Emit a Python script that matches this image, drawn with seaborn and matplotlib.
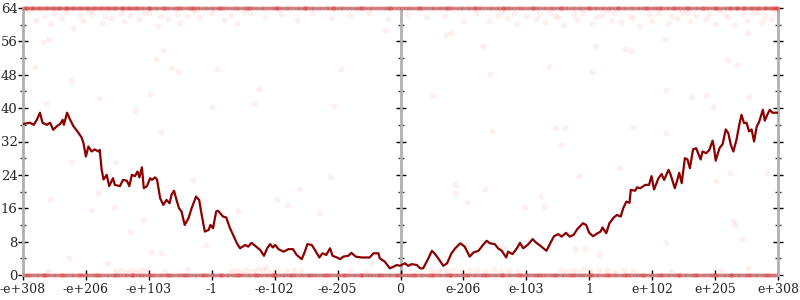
import matplotlib
matplotlib.use("Agg")
import matplotlib.pyplot as plt
import seaborn as sns
import pandas as pd
from matplotlib.ticker import MultipleLocator, FixedLocator

# ---------------- data ----------------
tick_labels = ["-e+308", "-e+206", "-e+103", "-1", "-e-102", "-e-205", "0",
               "e-206", "e-103", "1", "e+102", "e+205", "e+308"]

line_x = [0.00, 0.11, 0.17, 0.22, 0.27, 0.31, 0.38, 0.43, 0.48, 0.54, 0.59, 0.63, 0.65, 0.70, 0.75,
          0.80, 0.88, 0.93, 0.96, 1.00, 1.04, 1.09, 1.14, 1.20, 1.22, 1.25, 1.28, 1.33, 1.37, 1.43,
          1.46, 1.54, 1.59, 1.65, 1.69, 1.73, 1.78, 1.82, 1.85, 1.89, 1.92, 1.97, 2.02, 2.05, 2.10,
          2.13, 2.18, 2.23, 2.28, 2.33, 2.36, 2.40, 2.44, 2.48, 2.52, 2.57, 2.63, 2.68, 2.75, 2.80,
          2.84, 2.89, 2.95, 2.98, 3.02, 3.07, 3.10, 3.18, 3.23, 3.29, 3.34, 3.40, 3.45, 3.53, 3.58,
          3.63, 3.69, 3.77, 3.83, 3.88, 3.93, 3.97, 4.01, 4.06, 4.14, 4.22, 4.29, 4.35, 4.43, 4.48,
          4.52, 4.59, 4.64, 4.71, 4.76, 4.82, 4.88, 4.92, 4.99, 5.04, 5.09, 5.17, 5.22, 5.29, 5.38,
          5.51, 5.57, 5.65, 5.67, 5.75, 5.83, 5.89, 5.94, 5.99, 6.07, 6.12, 6.18, 6.26, 6.31, 6.36,
          6.43, 6.50, 6.55, 6.60, 6.68, 6.74, 6.81, 6.87, 6.95, 7.02, 7.10, 7.16, 7.24, 7.31, 7.37,
          7.42, 7.50, 7.55, 7.61, 7.68, 7.71, 7.78, 7.85, 7.90, 7.95, 8.02, 8.10, 8.16, 8.24, 8.32,
          8.38, 8.44, 8.51, 8.56, 8.63, 8.69, 8.75, 8.81, 8.90, 8.95, 9.00, 9.06, 9.13, 9.18, 9.21,
          9.27, 9.32, 9.39, 9.44, 9.50, 9.54, 9.59, 9.64, 9.66, 9.73, 9.76, 9.81, 9.89, 9.95, 9.99,
          10.03, 10.10, 10.15, 10.19, 10.26, 10.29, 10.36, 10.40, 10.43, 10.47, 10.52, 10.56, 10.60,
          10.65, 10.70, 10.73, 10.77, 10.80, 10.86, 10.91, 10.96, 10.98, 11.01, 11.07, 11.12, 11.17,
          11.21, 11.25, 11.29, 11.34, 11.38, 11.42, 11.46, 11.50, 11.54, 11.58, 11.62, 11.66, 11.70,
          11.76, 11.79, 11.83, 11.87, 11.91, 12.00]
line_y = [36.2, 36.5, 36.0, 37.2, 38.9, 36.5, 36.0, 36.5, 34.8, 35.7, 36.2, 37.2, 36.0, 38.9, 37.2,
          35.7, 34.1, 33.0, 31.7, 28.4, 30.8, 29.6, 30.1, 29.6, 30.0, 25.2, 22.9, 24.0, 21.3, 23.2,
          21.6, 21.3, 22.8, 22.6, 21.3, 24.0, 23.7, 24.8, 23.4, 25.8, 20.8, 21.3, 23.2, 22.8, 23.4,
          22.9, 18.4, 16.8, 18.0, 17.2, 19.2, 20.2, 18.0, 16.0, 15.2, 12.0, 13.6, 16.0, 18.8, 18.0,
          14.4, 10.4, 10.8, 12.0, 11.2, 15.2, 15.4, 14.0, 13.8, 11.2, 9.6, 7.6, 6.4, 7.2, 6.8,
          7.7, 7.0, 6.0, 4.6, 6.4, 7.4, 6.6, 7.2, 6.2, 5.6, 6.2, 6.2, 4.8, 3.8, 5.6,
          7.4, 7.2, 6.0, 4.2, 5.2, 4.8, 6.4, 4.6, 4.2, 3.8, 4.4, 4.6, 5.3, 4.4, 4.2,
          4.2, 5.2, 5.2, 4.0, 3.2, 1.6, 2.0, 2.4, 2.2, 2.8, 2.2, 2.6, 2.4, 1.6, 1.6,
          3.6, 5.8, 5.0, 4.0, 2.2, 2.8, 5.2, 6.4, 7.6, 6.8, 4.4, 5.4, 5.8, 7.2, 8.2,
          7.6, 7.4, 6.4, 5.8, 4.2, 5.6, 5.0, 6.4, 7.7, 6.4, 7.2, 8.6, 7.7, 6.8, 5.8,
          7.6, 9.3, 9.8, 9.2, 10.1, 9.2, 9.6, 11.0, 12.4, 12.0, 10.1, 9.3, 10.0, 10.4, 11.4,
          10.0, 12.4, 13.8, 14.4, 14.0, 16.0, 17.6, 17.3, 20.4, 20.2, 21.0, 20.8, 21.6, 21.6, 23.7,
          20.5, 23.2, 24.2, 22.8, 25.2, 24.2, 20.8, 22.8, 24.5, 22.0, 28.0, 27.7, 25.6,
          30.1, 30.4, 29.2, 27.7, 29.6, 29.2, 30.0, 32.2, 30.8, 27.4, 30.4, 31.4, 34.9,
          34.0, 31.2, 29.6, 32.4, 35.7, 38.4, 36.4, 36.5, 34.4, 34.9, 32.0, 35.5, 36.7,
          39.6, 37.0, 38.4, 39.6, 38.9, 38.9]

# points sitting on the top edge (error = 64 bits)
top_x = [0.02, 0.07, 0.12, 0.18, 0.23, 0.29, 0.34, 0.40, 0.44, 0.51, 0.55, 0.61, 0.66, 0.72, 0.77,
         0.83, 0.88, 0.94, 0.99, 1.05, 1.10, 1.16, 1.21, 1.27, 1.32, 1.38, 1.43, 1.49, 1.55, 1.60,
         1.66, 1.71, 1.77, 1.82, 1.88, 1.93, 1.99, 2.04, 2.10, 2.15, 2.21, 2.27, 2.32, 2.38, 2.43,
         2.49, 2.54, 2.60, 2.65, 2.71, 2.77, 2.82, 2.88, 2.93, 2.99, 3.04, 3.10, 3.16, 3.21, 3.27,
         3.33, 3.38, 3.44, 3.49, 3.55, 3.61, 3.66, 3.72, 3.78, 3.83, 3.89, 3.95, 4.01, 4.06, 4.12,
         4.18, 4.23, 4.29, 4.35, 4.41, 4.46, 4.52, 4.58, 4.63, 4.69, 4.75, 4.81, 4.86, 4.92, 4.98,
         5.04, 5.09, 5.15, 5.21, 5.27, 5.32, 5.38, 5.44, 5.50, 5.55, 5.61, 5.67, 5.73, 5.78, 5.84,
         5.90, 5.96, 6.02, 6.08, 6.13, 6.19, 6.25, 6.31, 6.36, 6.42, 6.48, 6.54, 6.59, 6.65, 6.71,
         6.77, 6.82, 6.88, 6.94, 7.00, 7.05, 7.11, 7.17, 7.23, 7.28, 7.34, 7.40, 7.46, 7.51, 7.57,
         7.63, 7.69, 7.74, 7.80, 7.86, 7.92, 7.97, 8.03, 8.09, 8.15, 8.20, 8.26, 8.32, 8.38, 8.43,
         8.49, 8.55, 8.61, 8.66, 8.72, 8.78, 8.84, 8.89, 8.95, 9.01, 9.07, 9.12, 9.18, 9.24, 9.30,
         9.35, 9.41, 9.47, 9.53, 9.58, 9.64, 9.70, 9.76, 9.81, 9.87, 9.93, 9.99, 10.04, 10.10, 10.16,
         10.22, 10.27, 10.33, 10.39, 10.45, 10.50, 10.56, 10.62, 10.68, 10.73, 10.79, 10.85, 10.91,
         10.96, 11.02, 11.08, 11.14, 11.19, 11.25, 11.31, 11.37, 11.42, 11.48, 11.54, 11.60, 11.65,
         11.71, 11.77, 11.83, 11.88, 11.94, 11.99,
         0.05, 0.15, 0.26, 0.37, 0.48, 0.58, 0.69, 0.80, 0.91, 1.02, 1.13, 1.24, 1.35, 1.46, 1.57,
         1.68, 1.79, 2.01, 2.24, 2.46, 2.68, 3.13, 3.58, 4.03, 4.48, 4.93, 5.39, 5.84, 6.29, 6.74,
         7.19, 7.65, 8.10, 8.55, 9.00, 9.45, 9.90, 10.12, 10.35, 10.57, 10.80, 11.02, 11.24, 11.35,
         11.46, 11.57, 11.68, 11.79, 11.90, 11.97]

near_top_x = [0.20, 0.35, 0.45, 0.50, 0.62, 0.80, 0.90, 0.95, 1.10, 1.25, 1.30, 1.40, 1.55, 1.60,
              1.70, 1.85, 2.00, 2.15, 2.20, 2.30, 2.45, 2.50, 2.60, 2.80, 3.00, 3.20, 3.30, 3.40,
              3.60, 3.85, 4.10, 4.35, 4.60, 4.90, 5.20, 5.50, 5.80, 6.10, 6.40, 6.70, 7.00, 7.20,
              7.40, 7.55, 7.70, 7.80, 7.85, 8.00, 8.15, 8.20, 8.30, 8.45, 8.50, 8.60, 8.75, 8.80,
              8.90, 9.05, 9.10, 9.20, 9.35, 9.40, 9.50, 9.65, 9.70, 9.80, 9.95, 10.00, 10.10, 10.25,
              10.30, 10.40, 10.55, 10.60, 10.70, 10.85, 10.90, 11.00, 11.15, 11.20, 11.30, 11.45,
              11.50, 11.60, 11.75, 11.80, 11.90, 0.10, 0.68, 1.05, 1.92, 2.72, 3.52, 7.62, 8.38,
              9.28, 10.48, 11.08, 11.68, 11.95]
near_top_y = [61.2, 62.0, 60.2, 62.8, 61.6, 59.2, 62.4, 61.0, 62.6, 60.4, 62.1, 61.7, 62.9, 60.9,
              62.3, 61.4, 62.7, 59.8, 62.0, 61.3, 62.6, 60.5, 62.2, 61.8, 62.9, 61.2, 62.4, 60.3,
              62.7, 61.9, 62.5, 61.1, 62.8, 61.6, 62.3, 62.9, 61.4, 62.6, 61.9, 62.2, 61.0, 62.7,
              60.8, 62.4, 61.5, 62.9, 60.1, 62.0, 61.3, 62.6, 60.6, 62.2, 61.8, 60.0, 62.5, 61.2,
              62.8, 60.4, 61.9, 62.4, 61.1, 62.7, 60.7, 62.1, 61.6, 59.6, 62.5, 61.0, 62.9, 60.3,
              62.2, 61.5, 62.7, 60.9, 62.0, 61.4, 62.6, 60.2, 62.3, 61.8, 59.9, 62.5, 61.1, 62.8,
              60.6, 62.1, 61.3, 63.2, 63.0, 63.3, 63.1, 63.2, 63.0, 63.3, 63.1, 63.2, 63.0, 63.3,
              63.1, 63.2]

mid_x = [0.19, 0.77, 1.21, 0.36, 1.78, 2.02, 2.11, 2.22, 2.35, 2.46, 2.19, 3.01, 3.09, 3.75, 3.67,
         4.95, 5.05, 5.76, 0.31, 0.41, 7.31, 7.42, 6.52, 8.36, 9.04, 9.11, 9.57, 9.67, 10.22, 10.64,
         10.85, 10.97, 11.21, 11.35, 11.54, 7.45, 8.46, 8.62, 8.55, 9.69, 10.22, 6.72, 6.81, 10.20,
         11.50, 0.43, 0.77, 0.73, 1.19, 1.08, 1.48, 1.45, 1.91, 2.03, 2.20, 1.70, 2.70, 2.91, 3.41,
         4.03, 4.21, 4.38, 4.71, 4.88, 5.53, 1.33, 3.87, 6.87, 6.87, 7.05, 7.34, 7.63, 7.98, 8.23,
         8.28, 8.84, 8.77, 8.93, 9.16, 9.48, 10.22, 11.02, 11.23, 11.29, 11.32, 11.42, 11.53, 11.82]
mid_y = [49.9, 46.5, 42.5, 41.3, 39.5, 43.5, 51.7, 53.9, 49.7, 48.7, 34.2, 40.2, 49.3, 44.6, 41.0,
         40.6, 49.4, 58.7, 55.9, 56.5, 55.0, 48.2, 43.0, 49.8, 48.7, 54.9, 54.1, 53.7, 44.3, 42.7,
         43.1, 40.2, 51.5, 50.3, 42.7, 34.6, 35.2, 35.2, 31.2, 35.4, 34.1, 57.5, 57.9, 56.5,
         57.9, 18.1, 27.2, 4.0, 19.6, 15.7, 27.2, 16.2, 13.3, 5.6, 5.2, 10.4, 22.8, 7.2, 15.4,
         18.1, 16.8, 20.5, 14.9, 23.6, 2.8, 2.8, 1.8, 21.6, 19.6, 17.6, 20.5, 6.8, 16.4, 18.9,
         16.5, 23.7, 6.2, 6.2, 5.0, 25.6, 7.7, 22.6, 24.4, 12.9, 12.0, 8.6, 1.6, 24.4]

# points sitting on the bottom edge (error = 0 bits)
bottom_x = [0.03, 0.09, 0.14, 0.20, 0.25, 0.31, 0.37, 0.42, 0.48, 0.53, 0.59, 0.65, 0.70, 0.76, 0.81,
            0.87, 0.93, 0.98, 1.04, 1.09, 1.15, 1.21, 1.26, 1.32, 1.37, 1.43, 1.49, 1.54, 1.60, 1.65,
            1.71, 1.77, 1.82, 1.88, 1.93, 1.99, 2.05, 2.10, 2.16, 2.21, 2.27, 2.33, 2.38, 2.44, 2.49,
            2.55, 2.61, 2.66, 2.72, 2.77, 2.83, 2.89, 2.94, 3.00, 3.05, 3.11, 3.17, 3.22, 3.28, 3.33,
            3.39, 3.45, 3.50, 3.56, 3.61, 3.67, 3.73, 3.78, 3.84, 3.89, 3.95, 4.01, 4.06, 4.12, 4.17,
            4.23, 4.29, 4.34, 4.40, 4.45, 4.51, 4.57, 4.62, 4.68, 4.73, 4.79, 4.85, 4.90, 4.96, 5.01,
            5.07, 5.13, 5.18, 5.24, 5.29, 5.35, 5.41, 5.46, 5.52, 5.57, 5.63, 5.69, 5.74, 5.80, 5.85,
            5.91, 5.97, 6.03, 6.08, 6.14, 6.19, 6.25, 6.31, 6.36, 6.42, 6.47, 6.53, 6.59, 6.64, 6.70,
            6.75, 6.81, 6.87, 6.92, 6.98, 7.03, 7.09, 7.15, 7.20, 7.26, 7.31, 7.37, 7.43, 7.48, 7.54,
            7.59, 7.65, 7.71, 7.76, 7.82, 7.87, 7.93, 7.99, 8.04, 8.10, 8.15, 8.21, 8.27, 8.32, 8.38,
            8.43, 8.49, 8.55, 8.60, 8.66, 8.71, 8.77, 8.83, 8.88, 8.94, 8.99, 9.05, 9.11, 9.16, 9.22,
            9.27, 9.33, 9.39, 9.44, 9.50, 9.55, 9.61, 9.67, 9.72, 9.78, 9.83, 9.89, 9.95, 10.00, 10.06,
            10.11, 10.17, 10.23, 10.28, 10.34, 10.39, 10.45, 10.51, 10.56, 10.62, 10.67, 10.73, 10.79,
            10.84, 10.90, 10.95, 11.01, 11.07, 11.12, 11.18, 11.23, 11.29, 11.35, 11.40, 11.46, 11.51,
            11.57, 11.63, 11.68, 11.74, 11.79, 11.85, 11.91, 11.96,
            0.06, 0.34, 0.62, 0.90, 1.18, 1.46, 1.74, 2.02, 2.30, 2.58, 2.86, 3.14, 3.42, 3.70, 3.98,
            4.26, 4.54, 4.82, 5.10, 5.38, 5.66, 5.94, 6.22, 6.50, 6.78, 7.06, 7.34, 7.62, 7.90, 8.18,
            8.46, 8.74, 9.02, 9.30, 9.58, 9.86, 10.14, 10.42, 10.70, 10.98, 11.26, 11.54, 11.82]

near_bottom_x = [1.48, 1.55, 1.63, 1.72, 1.80, 1.88, 2.25, 2.60, 3.30, 3.38, 3.47, 3.55, 3.66, 3.74,
                 3.82, 3.92, 4.05, 4.18, 4.30, 4.42, 6.48, 6.56, 6.65, 6.74, 6.83, 6.96, 7.10, 7.22,
                 7.35, 7.48, 7.60, 7.72, 7.86, 8.55, 8.63, 8.72, 8.81, 8.90, 9.02, 9.15, 9.28, 9.40,
                 9.55, 9.70, 1.95, 0.40, 5.20, 5.45, 10.30, 11.10]
near_bottom_y = [0.9, 1.3, 0.7, 1.1, 0.8, 1.2, 0.9, 1.4, 1.0, 1.3, 0.8, 1.2, 0.9, 1.4, 1.1, 0.8,
                 1.2, 0.9, 1.3, 1.0, 1.2, 0.8, 1.4, 1.0, 1.2, 0.9, 1.3, 1.1, 0.8, 1.4, 1.0, 1.2,
                 0.9, 1.3, 0.8, 1.2, 1.0, 1.4, 0.9, 1.1, 1.3, 0.8, 1.2, 1.0, 1.1, 0.9, 1.3, 0.8,
                 1.0, 1.2]

# ---------------- plotting ----------------
sns.set_style("white")
plt.rcParams["font.family"] = ["DejaVu Serif"]

band = pd.DataFrame({
    "x": top_x + bottom_x,
    "y": [64.0] * len(top_x) + [0.0] * len(bottom_x),
})
scatter = pd.DataFrame({
    "x": near_top_x + mid_x + near_bottom_x,
    "y": near_top_y + mid_y + near_bottom_y,
})
line = pd.DataFrame({"x": line_x, "y": line_y})

fig = plt.figure(figsize=(8, 3), dpi=100)
ax = fig.add_axes([23 / 800, 25 / 300, 755 / 800, 267 / 300])

sns.scatterplot(data=scatter, x="x", y="y", ax=ax, color="#ff0000", alpha=0.06,
                s=20, linewidth=0, zorder=3)
sns.scatterplot(data=band, x="x", y="y", ax=ax, color="#ff0000", alpha=0.24,
                s=13, linewidth=0, zorder=3, clip_on=False)
sns.lineplot(data=line, x="x", y="y", ax=ax, color="#8b0000", linewidth=1.6,
             zorder=4, estimator=None, sort=False)

ax.set_xlim(0, 12)
ax.set_ylim(0, 64)
ax.set_xlabel("")
ax.set_ylabel("")

ax.xaxis.set_major_locator(FixedLocator(list(range(len(tick_labels)))))
ax.set_xticklabels(tick_labels)
ax.yaxis.set_major_locator(MultipleLocator(8))
ax.yaxis.set_minor_locator(MultipleLocator(4))

spine_col = "#b0b0b0"
for sp in ax.spines.values():
    sp.set_visible(True)
    sp.set_color(spine_col)
    sp.set_linewidth(2)

ax.tick_params(axis="y", which="major", direction="inout", length=7.5, width=1,
               color="black", left=True, right=True, labelsize=9.5, pad=0)
ax.tick_params(axis="y", which="minor", direction="inout", length=4.5, width=1,
               color="#333333", left=True, right=True)
ax.tick_params(axis="x", which="major", direction="inout", length=7.5, width=1,
               color="black", bottom=True, top=False, labelsize=9, pad=2)

sec = ax.secondary_yaxis(0.5)
sec.yaxis.set_major_locator(MultipleLocator(8))
sec.yaxis.set_minor_locator(MultipleLocator(4))
sec.tick_params(which="major", direction="inout", length=7.5, width=1, color="black",
                labelleft=False, labelright=False)
sec.tick_params(which="minor", direction="inout", length=4.5, width=1, color="#333333")
for sp in sec.spines.values():
    sp.set_color(spine_col)
    sp.set_linewidth(2)

fig.savefig("out.png", dpi=100)
